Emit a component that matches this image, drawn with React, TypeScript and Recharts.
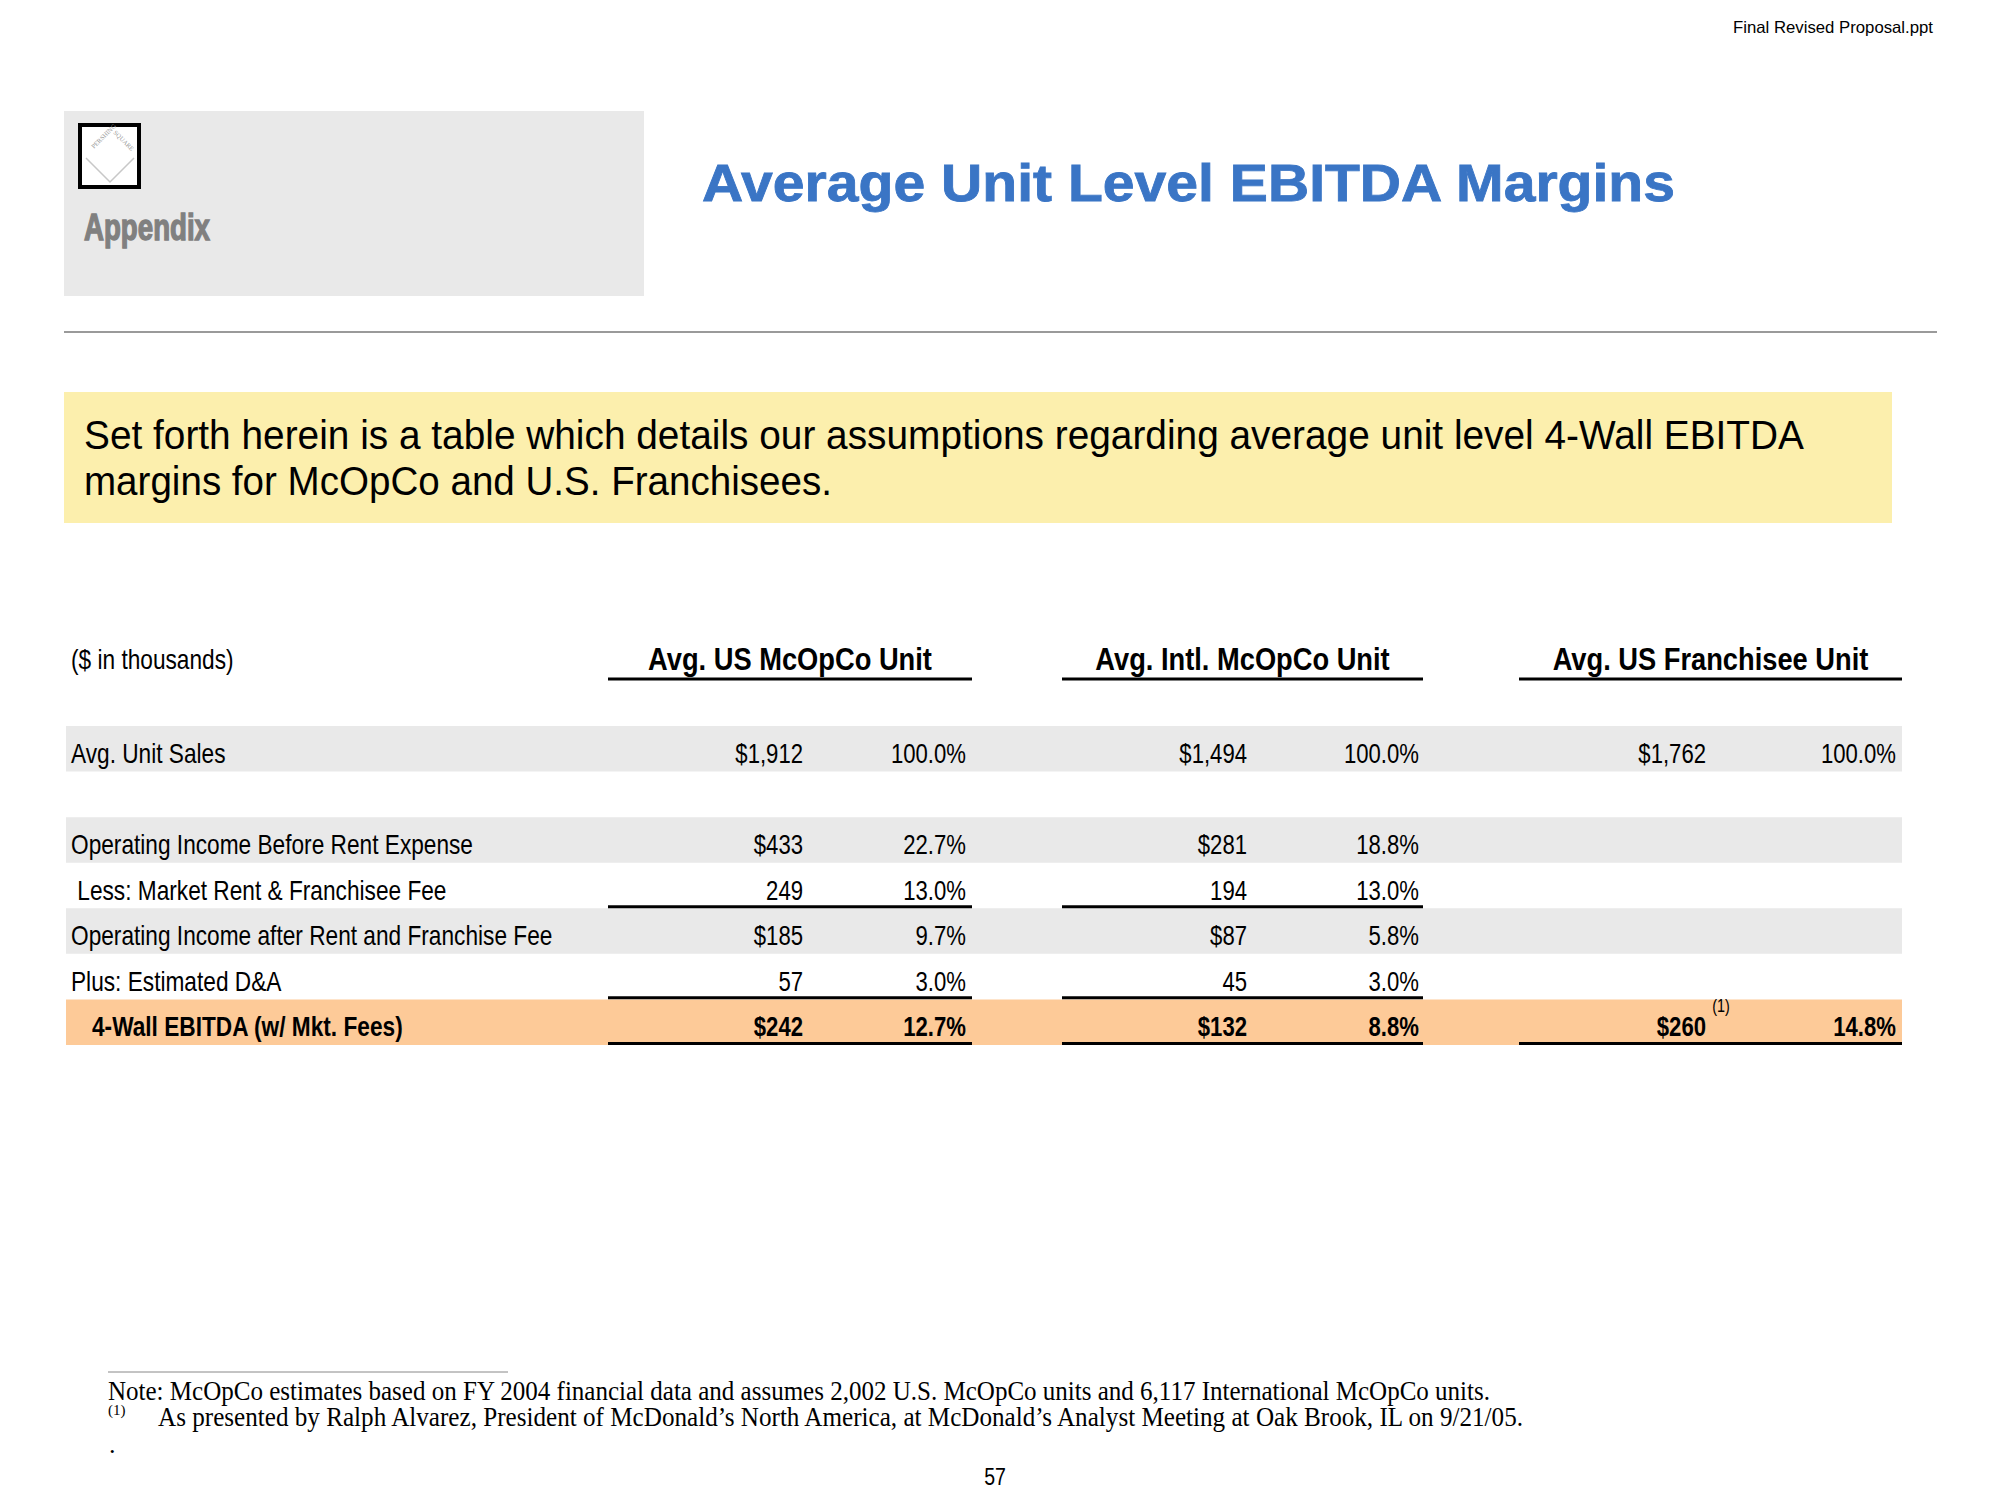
import { BarChart, Bar, XAxis, YAxis, LabelList, ReferenceArea } from 'recharts';

const rowLabels = [
  'Avg. Unit Sales',
  '',
  'Operating Income Before Rent Expense',
  ' Less: Market Rent & Franchisee Fee',
  'Operating Income after Rent and Franchise Fee',
  'Plus: Estimated D&A',
  '4-Wall EBITDA (w/ Mkt. Fees)',
];
const usDollars = [1912, null, 433, 249, 185, 57, 242];
const usPct = [100.0, null, 22.7, 13.0, 9.7, 3.0, 12.7];
const intlDollars = [1494, null, 281, 194, 87, 45, 132];
const intlPct = [100.0, null, 18.8, 13.0, 5.8, 3.0, 8.8];
const franDollars = [1762, null, null, null, null, null, 260];
const franPct = [100.0, null, null, null, null, null, 14.8];
const columnHeads = ['Avg. US McOpCo Unit', 'Avg. Intl. McOpCo Unit', 'Avg. US Franchisee Unit'];

const dollarRows = [0, 2, 4, 6];
const shadedRows = [0, 2, 4];
const ruleRows = [3, 5, 6];
const totalRow = 6;

const SANS = "'Liberation Sans', Arial, sans-serif";
const SERIF = "'Liberation Serif', 'Times New Roman', serif";

// column geometry on the slide
const COLS = [
  { left: 608, right: 972, dollarRight: 803, pctRight: 966 },
  { left: 1062, right: 1423, dollarRight: 1247, pctRight: 1419 },
  { left: 1519, right: 1902, dollarRight: 1706, pctRight: 1896 },
];

const rows = rowLabels.map((label, i) => ({
  label,
  usD: usDollars[i],
  usP: usPct[i],
  intlD: intlDollars[i],
  intlP: intlPct[i],
  franD: franDollars[i],
  franP: franPct[i],
}));

const fmtDollar = (v: number, i: number) =>
  (dollarRows.includes(i) ? '$' : '') + v.toLocaleString('en-US');
const fmtPct = (v: number) => `${v.toFixed(1)}%`;

// Arial Narrow look-alike: Liberation Sans squeezed horizontally
function NText({ x, y, sx = 0.83, anchor = 'start', size = 27, weight = 400, fill = '#000', children }: any) {
  return (
    <text
      transform={`translate(${x} ${y}) scale(${sx} 1)`}
      textAnchor={anchor}
      fontFamily={SANS}
      fontSize={size}
      fontWeight={weight}
      fill={fill}
      style={{ whiteSpace: 'pre' }}
    >
      {children}
    </text>
  );
}

const rowOf = (y: number, h: number) => Math.round(y / h);

function labelContent(props: any) {
  const { y, height, value } = props;
  const r = rowOf(y, height);
  const bold = r === totalRow;
  return (
    <NText x={bold ? 92 : 71} y={y + height / 2 + 14} weight={bold ? 700 : 400} sx={bold ? 0.84 : 0.84}>
      {value}
    </NText>
  );
}

function cellContent(col: number, kind: 'd' | 'p') {
  return (props: any) => {
    const { y, height, value } = props;
    if (value == null) return null;
    const r = rowOf(y, height);
    const c = COLS[col];
    const bold = r === totalRow;
    const base = y + height / 2 + 14;
    const xr = kind === 'd' ? c.dollarRight : c.pctRight;
    return (
      <g>
        <NText x={xr} y={base} anchor="end" weight={bold ? 700 : 400} sx={0.82}>
          {kind === 'd' ? fmtDollar(value, r) : fmtPct(value)}
        </NText>
        {kind === 'd' && col === 2 && bold && (
          <NText x={xr + 15} y={y + 13} anchor="middle" size={18} sx={0.8}>
            (1)
          </NText>
        )}
        {kind === 'p' && ruleRows.includes(r) && (
          <line x1={c.left} x2={c.right} y1={y + height - 2} y2={y + height - 2} stroke="#000" strokeWidth={3} />
        )}
      </g>
    );
  };
}

function Slide() {
  return (
    <svg width={2000} height={1500} style={{ position: 'absolute', left: 0, top: 0 }}>
      <text x={1933} y={33} textAnchor="end" fontFamily={SANS} fontSize={16.5} fill="#000" textLength={200} lengthAdjust="spacingAndGlyphs">
        Final Revised Proposal.ppt
      </text>

      <rect x={64} y={111} width={580} height={185} fill="#e9e9e9" />
      <rect x={80} y={125} width={59} height={62} fill="#fff" stroke="#000" strokeWidth={4} />
      <g fill="#9a9a9a" fontFamily={SERIF} fontSize={6.5}>
        <text x={94} y={149} transform="rotate(-45 94 149)">PERSHING</text>
        <text x={113} y={133} transform="rotate(45 113 133)">SQUARE</text>
      </g>
      <polyline points="86,158 110,182 134,158" fill="none" stroke="#c8c8c8" strokeWidth={1.5} />
      <text x={84} y={240} fontFamily={SANS} fontWeight={700} fontSize={37} fill="#808080" stroke="#808080" strokeWidth={1.4} textLength={126} lengthAdjust="spacingAndGlyphs">
        Appendix
      </text>

      <text x={702} y={201} fontFamily={SANS} fontWeight={700} fontSize={51} fill="#3a75c5" stroke="#3a75c5" strokeWidth={0.8} textLength={973} lengthAdjust="spacingAndGlyphs">
        Average Unit Level EBITDA Margins
      </text>

      <line x1={64} x2={1937} y1={332} y2={332} stroke="#9a9a9a" strokeWidth={2} />

      <rect x={64} y={392} width={1828} height={131} fill="#fcefad" />
      <g fontFamily={SANS} fontSize={41} fill="#000">
        <text x={84} y={449} textLength={1720} lengthAdjust="spacingAndGlyphs">
          Set forth herein is a table which details our assumptions regarding average unit level 4-Wall EBITDA
        </text>
        <text x={84} y={495} textLength={748} lengthAdjust="spacingAndGlyphs">
          margins for McOpCo and U.S. Franchisees.
        </text>
      </g>

      <NText x={71} y={669} sx={0.84}>
        ($ in thousands)
      </NText>
      {columnHeads.map((h, i) => (
        <g key={h}>
          <NText x={(COLS[i].left + COLS[i].right) / 2} y={670} anchor="middle" weight={700} size={31} sx={0.88}>
            {h}
          </NText>
          <line x1={COLS[i].left} x2={COLS[i].right} y1={679} y2={679} stroke="#000" strokeWidth={3} />
        </g>
      ))}

      <line x1={108} x2={508} y1={1372} y2={1372} stroke="#888" strokeWidth={1} />
      <text x={108} y={1400} fontFamily={SERIF} fontSize={27} fill="#000" textLength={1382} lengthAdjust="spacingAndGlyphs">
        Note: McOpCo estimates based on FY 2004 financial data and assumes 2,002 U.S. McOpCo units and 6,117 International McOpCo units.
      </text>
      <text x={108} y={1415} fontFamily={SERIF} fontSize={15} fill="#000">
        (1)
      </text>
      <text x={158} y={1426} fontFamily={SERIF} fontSize={27} fill="#000" textLength={1365} lengthAdjust="spacingAndGlyphs">
        As presented by Ralph Alvarez, President of McDonald’s North America, at McDonald’s Analyst Meeting at Oak Brook, IL on 9/21/05.
      </text>
      <text x={109} y={1453} fontFamily={SERIF} fontSize={26} fill="#000">
        .
      </text>
      <NText x={995} y={1485} anchor="middle" size={23} sx={0.85}>
        57
      </NText>
    </svg>
  );
}

export default function App() {
  return (
    <div style={{ position: 'absolute', left: 0, top: 0, width: 2000, height: 1500, background: '#fff', overflow: 'hidden' }}>
      <Slide />
      <div style={{ position: 'absolute', left: 0, top: 726 }}>
        <BarChart
          width={2000}
          height={319}
          data={rows}
          layout="vertical"
          margin={{ top: 0, right: 98, bottom: 0, left: 66 }}
          barCategoryGap={0}
        >
          <XAxis type="number" hide domain={[0, 10000]} />
          <YAxis type="category" dataKey="label" hide />
          {shadedRows.map((r) => (
            <ReferenceArea key={r} y1={rowLabels[r]} y2={rowLabels[r]} fill="#e9e9e9" fillOpacity={1} stroke="none" />
          ))}
          <ReferenceArea y1={rowLabels[totalRow]} y2={rowLabels[totalRow]} fill="#fdca98" fillOpacity={1} stroke="none" />
          <Bar dataKey="usD" stackId="t" fill="none" isAnimationActive={false}>
            <LabelList dataKey="label" content={labelContent} />
            <LabelList dataKey="usD" content={cellContent(0, 'd')} />
          </Bar>
          <Bar dataKey="usP" stackId="t" fill="none" isAnimationActive={false}>
            <LabelList dataKey="usP" content={cellContent(0, 'p')} />
          </Bar>
          <Bar dataKey="intlD" stackId="t" fill="none" isAnimationActive={false}>
            <LabelList dataKey="intlD" content={cellContent(1, 'd')} />
          </Bar>
          <Bar dataKey="intlP" stackId="t" fill="none" isAnimationActive={false}>
            <LabelList dataKey="intlP" content={cellContent(1, 'p')} />
          </Bar>
          <Bar dataKey="franD" stackId="t" fill="none" isAnimationActive={false}>
            <LabelList dataKey="franD" content={cellContent(2, 'd')} />
          </Bar>
          <Bar dataKey="franP" stackId="t" fill="none" isAnimationActive={false}>
            <LabelList dataKey="franP" content={cellContent(2, 'p')} />
          </Bar>
        </BarChart>
      </div>
    </div>
  );
}
